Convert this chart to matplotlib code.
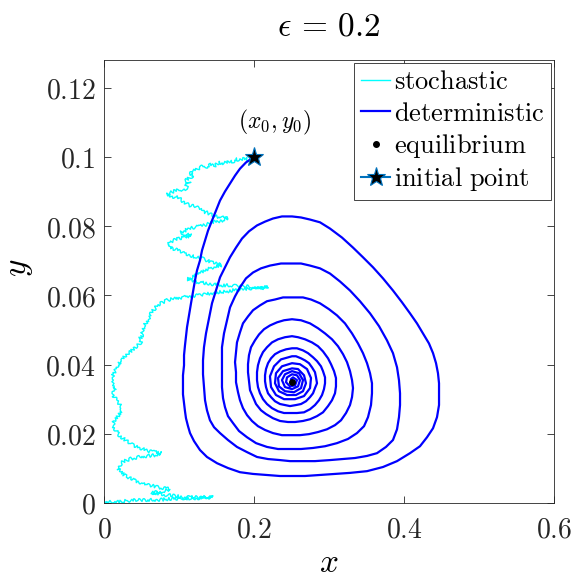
"""
Phase portrait for the eps = 0.2 case: stochastic vs deterministic path
starting from the same initial point, spiralling into the equilibrium.
"""

import matplotlib

matplotlib.use("Agg")  # headless
import matplotlib.pyplot as plt
from matplotlib.ticker import FuncFormatter, MultipleLocator

plt.rcParams["mathtext.fontset"] = "cm"

# ── Data ─────────────────────────────────────────────────────────────────

EPS = 0.2
X0, Y0 = 0.2, 0.1          # initial point
X_EQ, Y_EQ = 0.25, 0.035   # equilibrium

# deterministic trajectory: first descent + outer loop, then inner loops
det_x = [
    0.2, 0.1893, 0.1813, 0.1747, 0.168, 0.1613, 0.1547, 0.1493, 0.144, 0.1387,
    0.1347, 0.1307, 0.128, 0.124, 0.1213, 0.1187, 0.116, 0.1133, 0.1107, 0.1093,
    0.108, 0.1067, 0.1067, 0.1053, 0.1053, 0.1053, 0.1067, 0.108, 0.1093, 0.112,
    0.1147, 0.12, 0.128, 0.1373, 0.1507, 0.1653, 0.1813, 0.1987, 0.2173, 0.2347,
    0.248, 0.268, 0.288, 0.308, 0.328, 0.3507, 0.372, 0.3907, 0.408, 0.4213,
    0.4307, 0.4387, 0.444, 0.4467, 0.4467, 0.4467, 0.4453, 0.4427, 0.4387, 0.4333,
    0.4253, 0.4173, 0.408, 0.3973, 0.3853, 0.372, 0.3587, 0.3453, 0.332, 0.3173,
    0.3013, 0.288, 0.2747, 0.2627, 0.2507,
    # loop 1
    0.2373, 0.2253, 0.2147, 0.204, 0.1933, 0.184, 0.176, 0.168, 0.1613, 0.1547,
    0.1493, 0.144, 0.14, 0.136, 0.1333, 0.132, 0.132, 0.1333, 0.1347, 0.1373,
    0.1413, 0.1467, 0.1547, 0.1653, 0.1773, 0.1907, 0.204, 0.2187, 0.2347, 0.248,
    0.2613, 0.2813, 0.3013, 0.3187, 0.3347, 0.3507, 0.364, 0.376, 0.3853, 0.3907,
    0.3933, 0.3947, 0.3947, 0.3933, 0.3907, 0.3853, 0.3773, 0.3667, 0.3547, 0.3413,
    0.328, 0.3147, 0.3013, 0.288, 0.2747, 0.2627, 0.2507,
    # loop 2
    0.236, 0.2213, 0.2093, 0.1987, 0.1893, 0.1813, 0.1747, 0.168, 0.164, 0.16,
    0.1573, 0.1573, 0.1573, 0.1573, 0.1587, 0.1613, 0.1653, 0.172, 0.18, 0.1907,
    0.2027, 0.2173, 0.232, 0.248, 0.2627, 0.2787, 0.2947, 0.3107, 0.3253, 0.3373,
    0.3467, 0.352, 0.356, 0.3573, 0.3573, 0.3547, 0.3507, 0.3453, 0.3387, 0.3307,
    0.3213, 0.3107, 0.3, 0.288, 0.276, 0.2653, 0.2573, 0.2507,
    # loop 3
    0.2387, 0.228, 0.2173, 0.208, 0.1987, 0.192, 0.1853, 0.1813, 0.1773, 0.176,
    0.1747, 0.176, 0.176, 0.1787, 0.1813, 0.1853, 0.1907, 0.1973, 0.2053, 0.2147,
    0.2253, 0.2373, 0.2493, 0.2613, 0.2733, 0.2853, 0.2973, 0.308, 0.316, 0.3227,
    0.328, 0.3307, 0.332, 0.3307, 0.328, 0.324, 0.3187, 0.312, 0.304, 0.2947,
    0.2853, 0.2747, 0.2627, 0.2507,
    # loop 4
    0.24, 0.2307, 0.2213, 0.2133, 0.2067, 0.2013, 0.196, 0.1933, 0.192, 0.192,
    0.1933, 0.1947, 0.1987, 0.2027, 0.2093, 0.216, 0.2253, 0.2347, 0.2453, 0.2547,
    0.2653, 0.2747, 0.284, 0.292, 0.2987, 0.304, 0.308, 0.3093, 0.3093, 0.3067,
    0.3027, 0.2987, 0.292, 0.2853, 0.2773, 0.268, 0.2587, 0.2507,
    # loop 5
    0.2413, 0.232, 0.224, 0.2173, 0.212, 0.208, 0.2053, 0.204, 0.204, 0.2053,
    0.208, 0.212, 0.2173, 0.224, 0.232, 0.24, 0.248, 0.2573, 0.2667, 0.2747,
    0.2813, 0.2867, 0.2907, 0.2933, 0.2947, 0.2947, 0.292, 0.2893, 0.284, 0.2787,
    0.272, 0.2653, 0.2573, 0.2507,
    # loop 6
    0.2427, 0.2347, 0.228, 0.2227, 0.2187, 0.216, 0.2147, 0.2147, 0.216, 0.2187,
    0.2227, 0.228, 0.2347, 0.2413, 0.248, 0.256, 0.2627, 0.2693, 0.2747, 0.2787,
    0.2813, 0.284, 0.2827, 0.2813, 0.2773, 0.2733, 0.268, 0.2627, 0.256, 0.2507,
    # loop 7
    0.236, 0.2267, 0.2213, 0.2227, 0.2293, 0.24, 0.2547, 0.2667, 0.2747, 0.276,
    0.2707, 0.2613, 0.2507,
    # loop 8
    0.2373, 0.2293, 0.228, 0.2333, 0.244, 0.256, 0.2653, 0.2693, 0.2667, 0.2587,
    0.2507,
    # loop 9
    0.2387, 0.232, 0.2333, 0.2413, 0.2533, 0.2627, 0.2653, 0.26, 0.2507,
    # loops 10-11
    0.2413, 0.2373, 0.2413, 0.2507, 0.2587, 0.2613, 0.2573, 0.2507,
    0.244, 0.2427, 0.248, 0.2547, 0.2573, 0.252, 0.2493, 0.2493,
]
det_y = [
    0.1, 0.0984, 0.0966, 0.0946, 0.0923, 0.09, 0.0874, 0.0845, 0.0816, 0.0787,
    0.0759, 0.073, 0.0701, 0.0672, 0.0643, 0.0611, 0.0577, 0.0542, 0.0508, 0.0482,
    0.0456, 0.0427, 0.0398, 0.0369, 0.034, 0.0314, 0.0288, 0.0265, 0.0245, 0.0222,
    0.0202, 0.0179, 0.0153, 0.0133, 0.0115, 0.0101, 0.0089, 0.0084, 0.0081, 0.0078,
    0.0078, 0.0078, 0.0081, 0.0084, 0.0087, 0.0092, 0.0104, 0.0121, 0.0144, 0.0164,
    0.019, 0.0216, 0.0248, 0.0283, 0.0317, 0.0346, 0.0375, 0.0404, 0.0433, 0.0461,
    0.049, 0.0519, 0.0548, 0.058, 0.0614, 0.0649, 0.0681, 0.071, 0.0738, 0.0767,
    0.0793, 0.0811, 0.0819, 0.0825, 0.0828,
    # loop 1
    0.0828, 0.0822, 0.0813, 0.0802, 0.0785, 0.0764, 0.0738, 0.071, 0.0681, 0.0652,
    0.0614, 0.0577, 0.0534, 0.049, 0.045, 0.0412, 0.0372, 0.0335, 0.0297, 0.0268,
    0.0239, 0.0219, 0.0202, 0.0182, 0.0162, 0.0147, 0.0133, 0.0127, 0.0124, 0.0121,
    0.0121, 0.0121, 0.0124, 0.0127, 0.013, 0.0136, 0.0144, 0.0162, 0.0182, 0.0213,
    0.0248, 0.0283, 0.0317, 0.0355, 0.0392, 0.0433, 0.047, 0.0511, 0.0548, 0.0583,
    0.0614, 0.064, 0.0663, 0.0678, 0.0686, 0.0692, 0.0692,
    # loop 2
    0.0692, 0.0686, 0.0678, 0.0666, 0.0649, 0.0623, 0.0597, 0.0565, 0.0528, 0.049,
    0.045, 0.0412, 0.0372, 0.0335, 0.0303, 0.0277, 0.0251, 0.0231, 0.0208, 0.019,
    0.0173, 0.0162, 0.0156, 0.0156, 0.0156, 0.0159, 0.0164, 0.0173, 0.0185, 0.0202,
    0.0222, 0.0248, 0.0283, 0.0317, 0.0346, 0.0375, 0.0404, 0.0433, 0.0461, 0.049,
    0.0519, 0.0542, 0.056, 0.0577, 0.0588, 0.0594, 0.0594, 0.0594,
    # loop 3
    0.0594, 0.0588, 0.0583, 0.0571, 0.0557, 0.0539, 0.0519, 0.0493, 0.0464, 0.0436,
    0.0407, 0.0378, 0.0349, 0.032, 0.0297, 0.0274, 0.0254, 0.0237, 0.0222, 0.0211,
    0.0202, 0.0196, 0.0196, 0.0196, 0.0199, 0.0205, 0.0213, 0.0225, 0.0239, 0.026,
    0.0283, 0.0306, 0.0332, 0.0355, 0.0381, 0.0407, 0.043, 0.0453, 0.0473, 0.049,
    0.0505, 0.0519, 0.0528, 0.0531,
    # loop 4
    0.0528, 0.0522, 0.0513, 0.0502, 0.0487, 0.047, 0.045, 0.0427, 0.0401, 0.0378,
    0.0352, 0.0326, 0.0306, 0.0286, 0.0268, 0.0257, 0.0245, 0.0237, 0.0234, 0.0234,
    0.0237, 0.0242, 0.0251, 0.0262, 0.028, 0.0297, 0.0317, 0.0337, 0.0361, 0.0381,
    0.0401, 0.0418, 0.0438, 0.0453, 0.0464, 0.0473, 0.0479, 0.0482,
    # loop 5
    0.0479, 0.0473, 0.0464, 0.045, 0.0436, 0.0418, 0.0398, 0.0378, 0.0355, 0.0335,
    0.0317, 0.03, 0.0286, 0.0274, 0.0265, 0.026, 0.026, 0.026, 0.0262, 0.0271,
    0.0283, 0.0297, 0.0312, 0.0329, 0.0346, 0.0363, 0.0381, 0.0395, 0.041, 0.0421,
    0.0433, 0.0441, 0.0447, 0.0447,
    # loop 6
    0.0444, 0.0438, 0.043, 0.0418, 0.0404, 0.0387, 0.0369, 0.0352, 0.0335, 0.0317,
    0.0306, 0.0294, 0.0286, 0.0283, 0.028, 0.0283, 0.0286, 0.0294, 0.0306, 0.0317,
    0.0332, 0.0346, 0.0363, 0.0378, 0.0392, 0.0404, 0.0412, 0.0418, 0.0424, 0.0424,
    # loop 7
    0.0415, 0.0395, 0.0366, 0.0335, 0.0312, 0.03, 0.03, 0.0309, 0.0332, 0.0361,
    0.0387, 0.0401, 0.0404,
    # loop 8
    0.0395, 0.0375, 0.0346, 0.0323, 0.0312, 0.0312, 0.0323, 0.0346, 0.0369, 0.0387,
    0.0389,
    # loop 9
    0.0381, 0.0361, 0.0337, 0.0323, 0.032, 0.0332, 0.0355, 0.0375, 0.0381,
    # loops 10-11
    0.0372, 0.0355, 0.0335, 0.0329, 0.0337, 0.0355, 0.0369, 0.0372,
    0.0363, 0.0349, 0.0337, 0.034, 0.0355, 0.0363, 0.0358, 0.0349,
]

# one stochastic realisation (same start, ends near extinction)
sto_x = [
    0.2, 0.192, 0.1867, 0.1813, 0.176, 0.172, 0.1653, 0.16, 0.1533, 0.148,
    0.1413, 0.136, 0.1293, 0.124, 0.1173, 0.1147, 0.12, 0.1133, 0.1093, 0.1147,
    0.108, 0.112, 0.104, 0.0973, 0.088, 0.084, 0.0907, 0.0987, 0.104, 0.1093,
    0.1147, 0.1213, 0.1267, 0.132, 0.1373, 0.1427, 0.1493, 0.1573, 0.1653, 0.1573,
    0.1493, 0.1413, 0.1333, 0.1267, 0.1187, 0.1107, 0.1027, 0.1093, 0.116, 0.1067,
    0.0973, 0.0907, 0.0853, 0.088, 0.0947, 0.1013, 0.1093, 0.116, 0.124, 0.1307,
    0.1373, 0.144, 0.1507, 0.1573, 0.1493, 0.1413, 0.1347, 0.128, 0.1227, 0.1173,
    0.1107, 0.12, 0.128, 0.1373, 0.1467, 0.1573, 0.168, 0.1787, 0.1893, 0.2013,
    0.2107, 0.2187, 0.2053, 0.192, 0.1813, 0.1707, 0.1627, 0.1533, 0.144, 0.1347,
    0.1253, 0.1147, 0.1053, 0.0947, 0.084, 0.076, 0.0707, 0.068, 0.064, 0.0613,
    0.06, 0.0573, 0.0547, 0.0533, 0.0507, 0.052, 0.048, 0.0493, 0.0453, 0.04,
    0.036, 0.0307, 0.0267, 0.024, 0.02, 0.0173, 0.0147, 0.012, 0.0133, 0.012,
    0.0147, 0.0133, 0.012, 0.016, 0.02, 0.0227, 0.024, 0.02, 0.0173, 0.0133,
    0.012, 0.0147, 0.0173, 0.0213, 0.0267, 0.032, 0.0387, 0.0453, 0.052, 0.0587,
    0.068, 0.076, 0.0667, 0.0573, 0.048, 0.0387, 0.0307, 0.024, 0.0213, 0.0187,
    0.0213, 0.0253, 0.0293, 0.0347, 0.04, 0.0467, 0.0533, 0.0613, 0.0707, 0.0787,
    0.088, 0.08, 0.072, 0.0627, 0.072, 0.0827, 0.096, 0.1093, 0.124, 0.136,
    0.1453, 0.132, 0.1173, 0.1027, 0.088, 0.0733, 0.0573, 0.0427, 0.0293, 0.0173,
    0.008, 0.0013,
]
sto_y = [
    0.1, 0.0992, 0.0998, 0.0989, 0.0995, 0.0986, 0.0989, 0.0981, 0.0984, 0.0975,
    0.0978, 0.0969, 0.0972, 0.0963, 0.096, 0.0952, 0.0946, 0.094, 0.0932, 0.0923,
    0.0917, 0.0909, 0.0906, 0.0903, 0.0897, 0.0894, 0.0885, 0.0883, 0.0874, 0.0865,
    0.086, 0.0857, 0.0851, 0.0842, 0.0839, 0.0834, 0.0828, 0.0825, 0.0822, 0.0816,
    0.0813, 0.0808, 0.0802, 0.0799, 0.0796, 0.079, 0.0782, 0.0776, 0.0773, 0.0767,
    0.0764, 0.0756, 0.0747, 0.0738, 0.0733, 0.0727, 0.0721, 0.0715, 0.071, 0.0707,
    0.0701, 0.0695, 0.0692, 0.0686, 0.0684, 0.0678, 0.0672, 0.0666, 0.0658, 0.0652,
    0.0646, 0.064, 0.0637, 0.0635, 0.0632, 0.0629, 0.0629, 0.0626, 0.0626, 0.0623,
    0.0623, 0.0623, 0.062, 0.062, 0.0617, 0.0614, 0.0611, 0.0609, 0.0606, 0.0603,
    0.06, 0.0597, 0.0594, 0.0591, 0.0586, 0.0577, 0.0571, 0.0562, 0.0554, 0.0545,
    0.0534, 0.0525, 0.0516, 0.0508, 0.0496, 0.0485, 0.0476, 0.0464, 0.0456, 0.0447,
    0.0438, 0.043, 0.0421, 0.0412, 0.0404, 0.0392, 0.0381, 0.0369, 0.0358, 0.0346,
    0.0335, 0.0323, 0.0312, 0.03, 0.0288, 0.0277, 0.0265, 0.0257, 0.0245, 0.0237,
    0.0225, 0.0213, 0.0205, 0.0193, 0.0185, 0.0176, 0.0167, 0.0162, 0.0156, 0.015,
    0.0147, 0.0144, 0.0138, 0.0136, 0.0133, 0.013, 0.0124, 0.0118, 0.011, 0.0101,
    0.0092, 0.0084, 0.0078, 0.0072, 0.0066, 0.0061, 0.0055, 0.0052, 0.0046, 0.0043,
    0.004, 0.0035, 0.0032, 0.0029, 0.0026, 0.0023, 0.002, 0.0017, 0.0017, 0.0017,
    0.0017, 0.0014, 0.0014, 0.0012, 0.0012, 0.0009, 0.0009, 0.0009, 0.0006, 0.0003,
    0.0003, 0.0,
]

# ── Figure ───────────────────────────────────────────────────────────────

fig = plt.figure(figsize=(5.73, 5.79), dpi=100)
ax = fig.add_axes([104 / 573, 76 / 579, 450 / 573, 443 / 579])

# the simulated path is drawn with a fine sketch wiggle (line style only)
sto_line, = ax.plot(sto_x, sto_y, color="#00FFFF", linewidth=1.0,
                    label=r"$\mathrm{stochastic}$")
sto_line.set_sketch_params(scale=1.6, length=3.0, randomness=4.0)
ax.plot(det_x, det_y, color="#0000FF", linewidth=1.6,
        solid_joinstyle="round", label=r"$\mathrm{deterministic}$")
ax.plot(X_EQ, Y_EQ, linestyle="none", marker="o", markersize=4,
        color="k", label=r"$\mathrm{equilibrium}$")
ax.plot(X0, Y0, linestyle="-", marker="*", markersize=14, color="#0072BD",
        markerfacecolor="k", markeredgecolor="#0072BD", markeredgewidth=0.8,
        label=r"$\mathrm{initial\ point}$")

ax.text(0.228, 0.1099, r"$(x_0,y_0)$", ha="center", va="center", fontsize=17)

ax.set_xlim(0, 0.6)
ax.set_ylim(0, 0.128)
ax.xaxis.set_major_locator(MultipleLocator(0.2))
ax.yaxis.set_major_locator(MultipleLocator(0.02))
fmt = FuncFormatter(lambda v, pos: f"${v:g}$")
ax.xaxis.set_major_formatter(fmt)
ax.yaxis.set_major_formatter(fmt)

ax.tick_params(direction="in", top=True, right=True, length=5, width=0.6,
               labelsize=20, colors="#262626")
ax.tick_params(axis="x", pad=9)
ax.tick_params(axis="y", pad=6)
for sp in ax.spines.values():
    sp.set_linewidth(0.6)
    sp.set_color("#262626")

ax.set_xlabel(r"$x$", fontsize=24, labelpad=2)
ax.set_ylabel(r"$y$", fontsize=24, labelpad=7)
ax.yaxis.label.set_y(0.53)
ax.set_title(rf"$\epsilon\,=\,{EPS:g}$", fontsize=24, pad=18)

leg = ax.legend(loc="upper right", fontsize=19, fancybox=False, framealpha=1,
                edgecolor="#262626", handlelength=1.1, handletextpad=0.15,
                labelspacing=0.2, borderpad=0.25, borderaxespad=0.1)
leg.get_frame().set_linewidth(0.6)
# keep the legend sample of the simulated path straight
leg.get_lines()[0].set_sketch_params(None)

fig.savefig("out.png", dpi=100)
